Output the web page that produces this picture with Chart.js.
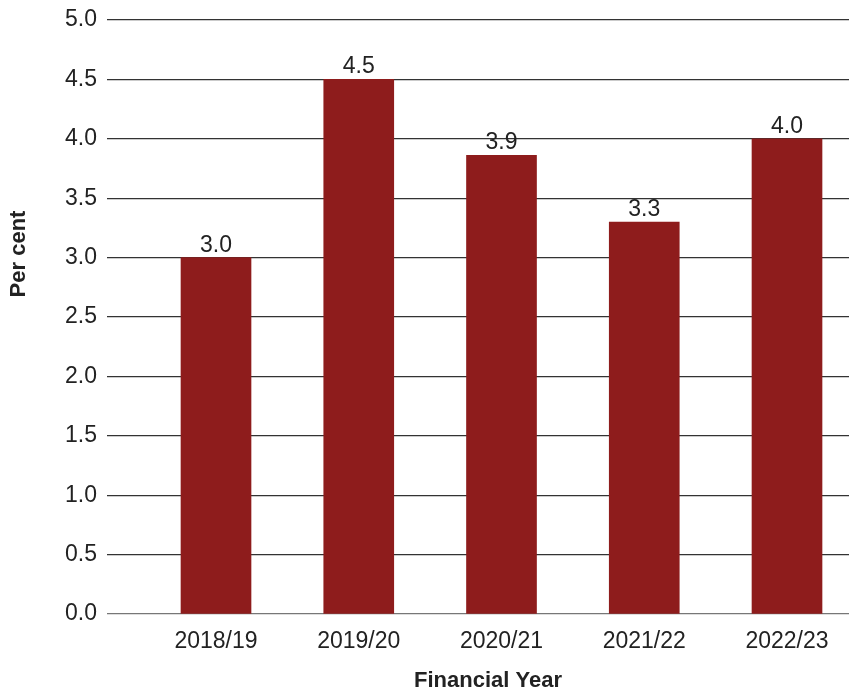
<!DOCTYPE html>
<html>
<head>
<meta charset="utf-8">
<script src="https://cdn.jsdelivr.net/npm/chart.js@4"></script>
<style>
  html, body { margin: 0; padding: 0; background: #fff; }
  #wrap { width: 849px; height: 692px; }
</style>
</head>
<body>
<div id="wrap"><canvas id="stat1" width="849" height="692"></canvas></div>
<script>
var years = ['2018/19', '2019/20', '2020/21', '2021/22', '2022/23'];
var perCent = [3.0, 4.5, 3.86, 3.3, 4.0];
var yTicks = [0, 0.5, 1, 1.5, 2, 2.5, 3, 3.5, 4, 4.5, 5];
var xTitle = 'Financial Year';
var yTitle = 'Per cent';

var barColor = '#8e1c1c';
var textColor = '#222222';
var font = 'Liberation Sans, Arial, sans-serif';

// values on top of the bars + axis titles
var labelsPlugin = {
    id: 'labels',
    afterDatasetsDraw: function (chart) {
        var c = chart.ctx;
        var meta = chart.getDatasetMeta(0);
        c.save();
        c.fillStyle = textColor;
        c.font = '23px ' + font;
        c.textAlign = 'center';
        c.textBaseline = 'alphabetic';
        meta.data.forEach(function (bar, i) {
            c.fillText(perCent[i].toFixed(1), bar.x, bar.y - 6);
        });
        var area = chart.chartArea;
        c.font = 'bold 22px ' + font;
        c.textBaseline = 'middle';
        c.fillText(xTitle, area.left + 381, 681);
        c.translate(19, 254);
        c.rotate(-Math.PI / 2);
        c.fillText(yTitle, 0, 0);
        c.restore();
    }
};

var ctx = document.getElementById('stat1').getContext('2d');
var myChart = new Chart(ctx, {
    type: 'bar',
    data: {
        datasets: [{
            label: yTitle,
            data: perCent.map(function (v, i) { return { x: i, y: v }; }),
            backgroundColor: barColor,
            barThickness: 70,
            borderWidth: 0
        }]
    },
    options: {
        responsive: false,
        animation: false,
        layout: { padding: { top: 20, right: 0, left: 0, bottom: 0 } },
        plugins: {
            legend: { display: false },
            tooltip: { enabled: false }
        },
        scales: {
            x: {
                type: 'linear',
                offset: false,
                min: -0.7636,
                max: 4.4343,
                afterBuildTicks: function (axis) {
                    axis.ticks = years.map(function (y, i) { return { value: i }; });
                },
                afterFit: function (axis) { axis.height = 78; },
                grid: { display: false, drawTicks: false },
                border: { display: false },
                ticks: {
                    padding: 14,
                    color: textColor,
                    font: { family: font, size: 23 },
                    maxRotation: 0,
                    autoSkip: false,
                    callback: function (v) { return years[v]; }
                }
            },
            y: {
                min: 0,
                max: 5,
                afterBuildTicks: function (axis) {
                    axis.ticks = yTicks.map(function (v) { return { value: v }; });
                },
                afterFit: function (axis) { axis.width = 107; axis.paddingTop = 0; axis.paddingBottom = 0; },
                grid: {
                    color: function (c) { return c.tick && c.tick.value === 0 ? '#777777' : '#333333'; },
                    lineWidth: 1.3,
                    drawTicks: false
                },
                border: { display: false },
                ticks: {
                    padding: 10,
                    color: textColor,
                    font: { family: font, size: 23 },
                    callback: function (v) { return v.toFixed(1); }
                }
            }
        }
    },
    plugins: [labelsPlugin]
});
</script>
</body>
</html>
